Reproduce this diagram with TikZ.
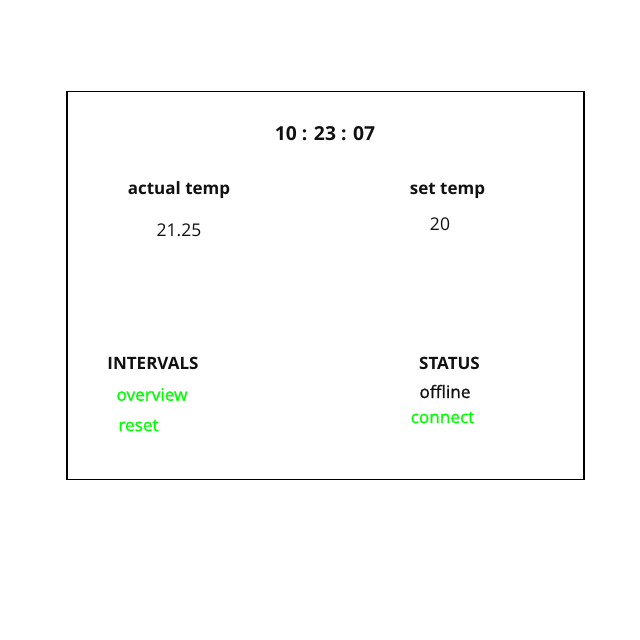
\documentclass[tikz,border=0pt]{standalone}
\usepackage{fontspec}
\setmainfont{Open Sans}
\newfontfamily\semifont{Open Sans}[BoldFont={Open Sans},BoldFeatures={FakeBold=1.1}]
\definecolor{lgreen}{RGB}{0,255,0}
\definecolor{txt}{RGB}{17,17,17}
\begin{document}
\begin{tikzpicture}[x=1pt,y=-1pt,
  lbl/.style={inner sep=0pt,anchor=center,text=txt,font=\fontsize{17.5}{19}\selectfont},
  head/.style={lbl,font=\fontsize{17}{19}\selectfont\bfseries},
  semi/.style={lbl,font=\fontsize{17.2}{19}\selectfont\semifont\bfseries},
  act/.style={semi,text=lgreen}]
\useasboundingbox[fill=white] (0,0) rectangle (640,640);
\node[draw=black,line width=1.8pt,minimum width=517pt,minimum height=388pt,inner sep=0pt] (frame) at (325.5,285.5) {};
\node[head,font=\fontsize{19.3}{21}\selectfont\bfseries] (clock) at (325,134) {10 : 23 : 07};
\node[head] (actual) at (179,190.5) {actual temp};
\node[lbl] (actval) at (179,230) {21.25};
\node[head] (settemp) at (447.5,190.5) {set temp};
\node[lbl] (setval) at (440,224) {20};
\node[head] (intervals) at (153,363.5) {INTERVALS};
\node[act] (overview) at (152,394.5) {overview};
\node[act] (reset) at (138.5,425.5) {reset};
\node[head] (status) at (449.5,363.5) {STATUS};
\node[semi] (offline) at (445,391.5) {offline};
\node[act] (connect) at (442.5,417.5) {connect};
\end{tikzpicture}
\end{document}
